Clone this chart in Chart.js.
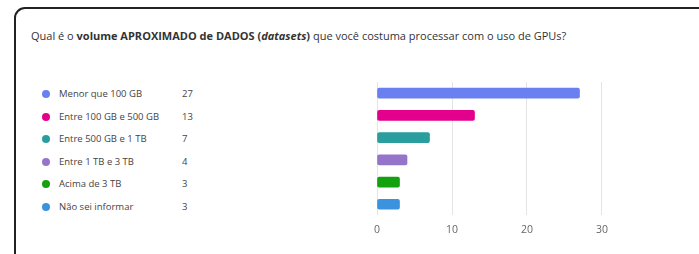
<!DOCTYPE html>
<html lang="pt">
<head>
<meta charset="UTF-8">
<title>Volume de dados</title>
<script src="https://cdn.jsdelivr.net/npm/chart.js@4.4.0/dist/chart.umd.min.js"></script>
<style>
    html, body { margin: 0; padding: 0; background: #fff; width: 699px; height: 254px; overflow: hidden; }
    body { font-family: "Open Sans", sans-serif; position: relative; }
    .card {
        position: absolute; left: 14px; top: 7px; width: 720px; height: 260px;
        border: 2px solid #222; border-radius: 11px; box-sizing: border-box;
    }
    .title { position: absolute; left: 31px; top: 28px; font-size: 11px; color: #333; white-space: nowrap; }
    .legend { position: absolute; left: 42px; top: 86px; margin: 0; padding: 0; list-style: none; }
    .legend li { position: relative; height: 22.5px; font-size: 9.5px; color: #444; line-height: 16px; }
    .legend .dot { position: absolute; left: 0; top: 4px; width: 8px; height: 8px; border-radius: 50%; }
    .legend .lbl { position: absolute; left: 17px; top: 0; white-space: nowrap; }
    .legend .val { position: absolute; left: 140px; top: 0; }
    #chartBox { position: absolute; left: 366px; top: 72px; width: 250px; height: 178px; }
</style>
</head>
<body>
<div class="card"></div>
<div class="title">Qual é o <b>volume APROXIMADO de DADOS (<i>datasets</i>)</b> que você costuma processar com o uso de GPUs?</div>
<ul class="legend" id="legend"></ul>
<div id="chartBox"><canvas id="chart"></canvas></div>

<script>
    // dados
    const categorias = ['Menor que 100 GB', 'Entre 100 GB e 500 GB', 'Entre 500 GB e 1 TB', 'Entre 1 TB e 3 TB', 'Acima de 3 TB', 'Não sei informar'];
    const respostas = [27, 13, 7, 4, 3, 3];
    const cores = ['#6a7ff0', '#e3008c', '#2a9d9f', '#9575c9', '#13a10e', '#3b93df'];
    const ticksX = [0, 10, 20, 30];

    // legenda à esquerda
    const legend = document.getElementById('legend');
    categorias.forEach((c, i) => {
        const li = document.createElement('li');
        li.innerHTML = '<span class="dot" style="background:' + cores[i] + '"></span>' +
            '<span class="lbl">' + c + '</span><span class="val">' + respostas[i] + '</span>';
        legend.appendChild(li);
    });

    const ctx = document.getElementById('chart').getContext('2d');
    new Chart(ctx, {
        type: 'bar',
        data: {
            labels: categorias,
            datasets: [{
                data: respostas,
                backgroundColor: cores,
                barThickness: 10,
                borderRadius: 2,
                borderSkipped: false
            }]
        },
        options: {
            indexAxis: 'y',
            responsive: true,
            maintainAspectRatio: false,
            animation: false,
            layout: { padding: { left: 10, right: 13, top: 10, bottom: 6 } },
            plugins: { legend: { display: false }, tooltip: { enabled: false } },
            scales: {
                x: {
                    min: 0, max: 30,
                    afterBuildTicks: axis => { axis.ticks = ticksX.map(v => ({ value: v })); },
                    grid: { color: '#e4e4e4', drawTicks: false },
                    border: { display: false },
                    ticks: { color: '#666', padding: 8, font: { family: 'Open Sans', size: 10.5 } }
                },
                y: { display: false }
            }
        }
    });
</script>
</body>
</html>
